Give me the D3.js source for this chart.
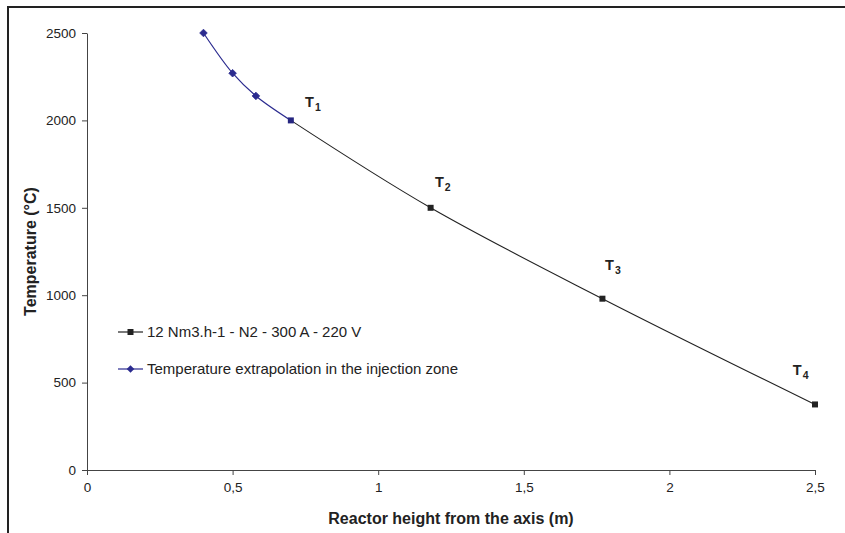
<!DOCTYPE html>
<html><head><meta charset="utf-8">
<script src="https://cdn.jsdelivr.net/npm/d3@7"></script>
<style>
html,body{margin:0;padding:0;background:#fff;}
svg{display:block;font-family:"Liberation Sans",Arial,Helvetica,sans-serif;}
</style></head>
<body><svg id="chart" width="845" height="533"></svg>
<script>
// ---- data ----
const xMeasured = [0.7, 1.18, 1.77, 2.5];
const yMeasured = [2000, 1500, 980, 375];
const xExtrap = [0.4, 0.5, 0.58, 0.7];
const yExtrap = [2500, 2270, 2140, 2000];
const pointLabels = ["1", "2", "3", "4"];
const labelX = [0.749, 1.195, 1.779, 2.424];
const labelY = [2077, 1619, 1144, 543];
const xTicks = [0, 0.5, 1, 1.5, 2, 2.5];
const yTicks = [0, 500, 1000, 1500, 2000, 2500];
const seriesNames = ["12 Nm3.h-1 - N2 - 300 A - 220 V", "Temperature extrapolation in the injection zone"];
const xTitle = "Reactor height from the axis (m)";
const yTitle = "Temperature (°C)";

const svg = d3.select("#chart");
const L = 87, R = 815, T = 33, B = 470;
const x = d3.scaleLinear().domain([0, 2.5]).range([L, R]);
const y = d3.scaleLinear().domain([0, 2500]).range([B, T]);
const fmt = d => String(d).replace(".", ",");

// frame (left and top edges)
svg.append("path").attr("d", "M8,533 L8,7 L845,7").attr("fill", "none")
  .attr("stroke", "#222").attr("stroke-width", 2);

// axes
const gx = svg.append("g").attr("transform", `translate(0,${B})`)
  .call(d3.axisBottom(x).tickValues(xTicks).tickFormat(fmt).tickSize(5).tickSizeOuter(0));
const gy = svg.append("g").attr("transform", `translate(${L},0)`)
  .call(d3.axisLeft(y).tickValues(yTicks).tickFormat(d3.format("d")).tickSize(5).tickSizeOuter(0));
[gx, gy].forEach(g => {
  g.select(".domain").attr("stroke", "#444");
  g.selectAll(".tick line").attr("stroke", "#444");
  g.selectAll(".tick text").attr("fill", "#222").style("font-size", "13.5px")
   .style("font-family", "\"Liberation Sans\",Arial,sans-serif");
});
gx.selectAll(".tick text").attr("y", 12).attr("dy", "0.71em");
gy.selectAll(".tick text").attr("x", -11);

// axis titles
svg.append("text").attr("x", (L + R) / 2).attr("y", 524).attr("text-anchor", "middle")
  .attr("font-weight", "bold").attr("font-size", 16).attr("fill", "#222").text(xTitle);
svg.append("text").attr("transform", `translate(36,${(T + B) / 2}) rotate(-90)`)
  .attr("text-anchor", "middle").attr("font-weight", "bold").attr("font-size", 16)
  .attr("fill", "#222").text(yTitle);

const line = d3.line().x(d => x(d[0])).y(d => y(d[1])).curve(d3.curveCatmullRom.alpha(0.5));
const measured = xMeasured.map((v, i) => [v, yMeasured[i]]);
const extrap = xExtrap.map((v, i) => [v, yExtrap[i]]);

const cBlack = "#222222", cBlue = "#2B2B8F";
svg.append("path").datum(measured).attr("d", line).attr("fill", "none")
  .attr("stroke", cBlack).attr("stroke-width", 1.1);
svg.append("path").datum(extrap).attr("d", line).attr("fill", "none")
  .attr("stroke", cBlue).attr("stroke-width", 1.2);

const sq = d3.symbol().type(d3.symbolSquare).size(36);
const dm = "M0,-3.8L3.8,0L0,3.8L-3.8,0Z";
svg.append("g").selectAll("path").data(extrap.slice(0, 3)).join("path")
  .attr("d", dm).attr("fill", cBlue).attr("stroke", cBlue).attr("stroke-width", 0.8)
  .attr("stroke-linejoin", "round")
  .attr("transform", d => `translate(${x(d[0])},${y(d[1])})`);
svg.append("g").selectAll("path").data(measured).join("path")
  .attr("d", sq).attr("fill", d => d[0] === xExtrap[xExtrap.length - 1] ? "#262680" : cBlack)
  .attr("transform", d => `translate(${x(d[0])},${y(d[1])})`);

// T labels
const lab = svg.append("g").attr("font-weight", "bold").attr("fill", "#222");
pointLabels.forEach((s, i) => {
  const t = lab.append("text").attr("x", x(labelX[i])).attr("y", y(labelY[i])).attr("font-size", 14.5);
  t.append("tspan").text("T");
  t.append("tspan").attr("font-size", 10.5).attr("dy", 4).attr("dx", 1).text(s);
});

// legend
const leg = [{ name: seriesNames[0], c: cBlack, s: sq, y: 332 }, { name: seriesNames[1], c: cBlue, s: dm, y: 369 }];
leg.forEach(d => {
  svg.append("line").attr("x1", 118).attr("x2", 143).attr("y1", d.y).attr("y2", d.y)
    .attr("stroke", d.c).attr("stroke-width", 1.2);
  svg.append("path").attr("d", d.s).attr("fill", d.c).attr("transform", `translate(130.5,${d.y})`);
  svg.append("text").attr("x", 147).attr("y", d.y + 5).attr("font-size", 15).attr("fill", "#222").text(d.name);
});
</script></body></html>
